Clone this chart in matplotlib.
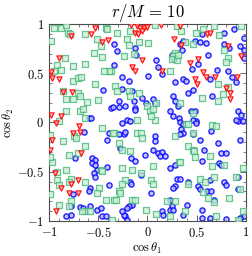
import matplotlib
matplotlib.use('Agg')
import matplotlib.pyplot as plt
from matplotlib.ticker import MultipleLocator, FuncFormatter

plt.rcParams['mathtext.fontset'] = 'cm'
plt.rcParams['font.family'] = 'serif'

# red downward triangles
red_x = [-0.53, -0.57, -0.78, -0.46, -0.40, -0.90, -0.98, -0.97, -0.90, -0.86,
         -0.77, -0.98, -0.88, -0.93, -0.70, -0.69, -0.76, -0.97, -0.99, -0.68,
         -0.94, -0.71, -0.78, -0.88, -0.80, -0.71, -0.93, -0.17, -0.11, -0.08,
         -0.04, -0.13, -0.10, -0.06, -0.01, 0.14, 0.33, 0.27, 0.34, 0.60,
         0.64, 0.82, 0.95, 0.51, 0.43, -0.06, -0.16, -0.13, 0.15, 0.56,
         0.59, 0.69, 0.48, 0.50, 0.91, 0.80, 0.84, 0.84]
red_y = [0.96, 0.90, 0.88, 0.82, 0.84, 0.66, 0.51, 0.45, 0.44, 0.31,
         0.31, 0.08, 0.07, -0.01, -0.04, -0.10, -0.11, -0.18, -0.28, -0.31,
         -0.51, -0.58, -0.62, -0.67, -0.72, -0.72, -0.90, 0.99, 0.98, 0.96,
         0.96, 0.91, 0.90, 0.93, 0.97, 0.99, 0.98, 0.85, 0.79, 0.90,
         0.91, 0.78, 0.68, 0.65, 0.60, 0.63, 0.56, 0.52, 0.52, 0.51,
         0.46, 0.46, 0.44, 0.39, 0.46, 0.35, 0.30, 0.24]

# green squares
green_x = [-0.95, -0.88, -0.83, -0.42, -0.41, -0.81, -0.79, -0.63, -0.51, -0.47,
           -0.98, -0.54, -0.46, -0.84, -0.63, -0.76, -0.92, -0.88, -0.95, -0.37,
           -0.39, -0.44, -0.76, -0.71, -0.68, -0.53, -0.86, -0.71, -0.69, -0.83,
           -0.76, -0.61, -0.50, -0.69, -0.66, -0.83, -0.63, -0.90,
           -0.31, -0.18, -0.21, -0.19, -0.09, 0.01, 0.08, 0.30, 0.28, 0.26,
           0.25, 0.30, 0.23, -0.24, -0.14, -0.33, -0.31, -0.19, -0.18, -0.09,
           -0.01, 0.03, 0.06, 0.09, 0.08, -0.11, 0.04,
           0.34, 0.38, 0.49, 0.56, 0.68, 0.95, 0.73, 0.46, 0.78, 0.82,
           0.80, 0.31, 0.72, 0.82, 0.77, 0.55, 0.72, 0.46, 0.33,
           -0.46, -0.34, -0.99, -0.86, -0.75, -0.73, -0.63, -0.80, -0.71, -0.97,
           -0.92, -0.83, -0.78, -0.80, -0.92, -0.90, -0.63, -0.47, -0.46, -0.49,
           -0.42, -0.34, -0.51, -0.78, -0.90, -0.63, -0.58, -0.36, -0.99, -0.99,
           -0.80, -0.67,
           -0.35, -0.29, -0.26, -0.11, -0.07, -0.06, -0.18, -0.26, -0.16, -0.07,
           0.06, 0.04, 0.06, 0.28, 0.32, -0.23, -0.26, -0.29, -0.28, -0.32,
           -0.16, -0.13, -0.02, 0.09, 0.23, 0.20, 0.28,
           0.39, 0.41, 0.66, 0.70, 0.46, 0.41, 0.46, 0.47, 0.48, 0.63,
           0.66, 0.78, 0.68, 0.33, 0.97, 0.90, 0.53, 0.58, 0.41, 0.56,
           0.61, 0.83, 0.94, 0.68, 0.38, 0.70, 0.97, 0.92]
green_y = [0.96, 0.96, 0.99, 0.96, 0.95, 0.91, 0.90, 0.90, 0.85, 0.78,
           0.83, 0.71, 0.67, 0.66, 0.59, 0.57, 0.58, 0.53, 0.52, 0.52,
           0.52, 0.52, 0.42, 0.45, 0.46, 0.39, 0.32, 0.30, 0.27, 0.24,
           0.24, 0.21, 0.23, 0.12, 0.14, 0.12, 0.05, 0.02,
           0.91, 0.93, 0.85, 0.79, 0.82, 0.81, 0.99, 0.98, 0.71, 0.68,
           0.64, 0.63, 0.52, 0.68, 0.70, 0.37, 0.32, 0.32, 0.27, 0.30,
           0.17, 0.12, 0.14, 0.20, 0.03, 0.03, 0.07,
           0.93, 0.82, 0.91, 0.95, 0.98, 0.98, 0.89, 0.80, 0.74, 0.66,
           0.61, 0.69, 0.39, 0.36, 0.29, 0.25, 0.22, 0.10, 0.20,
           -0.06, -0.11, -0.13, -0.19, -0.14, -0.16, -0.24, -0.33, -0.31, -0.40,
           -0.50, -0.48, -0.57, -0.60, -0.58, -0.63, -0.60, -0.48, -0.49, -0.67,
           -0.79, -0.79, -0.72, -0.80, -0.84, -0.90, -0.90, -0.99, -0.35, -0.73,
           -0.85, -0.90,
           -0.11, -0.21, -0.28, -0.11, -0.11, -0.16, -0.29, -0.46, -0.48, -0.51,
           -0.44, -0.58, -0.62, -0.14, -0.40, -0.58, -0.62, -0.70, -0.72, -0.79,
           -0.79, -0.79, -0.89, -0.93, -0.95, -0.80, -0.80,
           -0.02, -0.02, -0.03, -0.04, -0.11, -0.24, -0.28, -0.29, -0.35, -0.34,
           -0.44, -0.43, -0.55, -0.40, -0.46, -0.55, -0.57, -0.60, -0.62, -0.71,
           -0.77, -0.77, -0.68, -0.81, -0.90, -0.95, -0.90, -0.99]

# blue circles
blue_x = [-0.34, -0.34, -0.45, -0.37, -0.35, -0.59, -0.57,
          -0.31, -0.13, -0.12, -0.26, -0.26, -0.19, -0.16, -0.14, -0.06, 0.01,
          0.09, 0.11, 0.15, 0.28, 0.26, 0.28, 0.31, 0.33, 0.35, -0.29,
          -0.29, -0.23, -0.21, -0.13, -0.13, 0.06, 0.08, 0.23, 0.26, 0.32,
          -0.18, -0.02,
          0.55, 0.78, 0.88, 0.98, 0.98, 0.94, 0.78, 0.83, 0.98, 0.51,
          0.36, 0.39, 0.41, 0.82, 0.90, 0.46, 0.66, 0.44, 0.48, 0.49,
          0.46, 0.92, 0.95, 0.92, 0.97, 0.36, 0.48, 0.53, 0.59, 0.61,
          0.25, 0.27, 0.45, 0.71, 0.86, 0.63,
          -0.65, -0.39, -0.41, -0.74, -0.56, -0.53, -0.56, -0.53, -0.51, -0.54,
          -0.53, -0.41, -0.39, -0.58, -0.59, -0.76, -0.78, -0.69, -0.66, -0.58,
          -0.51, -0.47, -0.78, -0.83, -0.46, -0.42,
          -0.26, -0.29, -0.24, -0.23, 0.08, 0.08, -0.28, -0.03, 0.06, 0.11,
          0.15, 0.13, 0.18, -0.17, -0.13, 0.28, 0.23, -0.07, -0.18, -0.17,
          0.04, 0.30, 0.28, 0.26, -0.16, -0.19, -0.21, -0.23, -0.24, -0.26,
          0.15, 0.16, 0.23, 0.25, 0.23, 0.26, -0.21,
          0.33, 0.36, 0.34, 0.49, 0.46, 0.53, 0.57, 0.65, 0.72, 0.75,
          0.80, 0.73, 0.75, 0.55, 0.94, 0.90, 0.33, 0.41, 0.51, 0.53,
          0.63, 0.60, 0.65, 0.78, 0.80, 0.92, 0.92, 0.68, 0.40, 0.55,
          0.36, 0.55, 0.63, 0.80, 0.98, 0.94, 0.36, 0.33]
blue_y = [0.80, 0.58, 0.33, 0.15, 0.16, 0.05, 0.05,
          0.73, 0.76, 0.69, 0.46, 0.34, 0.42, 0.32, 0.22, 0.25, 0.47,
          0.63, 0.56, 0.49, 0.41, 0.27, 0.22, 0.17, 0.80, 0.74, 0.22,
          0.16, 0.17, 0.03, 0.15, 0.13, 0.24, 0.20, 0.12, 0.07, 0.05,
          0.02, 0.20,
          0.90, 0.91, 0.95, 0.86, 0.74, 0.78, 0.80, 0.76, 0.66, 0.59,
          0.44, 0.42, 0.30, 0.52, 0.41, 0.33, 0.27, 0.12, 0.12, 0.02,
          0.03, 0.12, 0.08, 0.02, 0.02, 0.83, 0.83, 0.82, 0.81, 0.69,
          0.69, 0.65, 0.54, 0.53, 0.46, 0.44,
          -0.10, -0.11, -0.18, -0.36, -0.36, -0.38, -0.41, -0.43, -0.48, -0.51,
          -0.55, -0.45, -0.63, -0.67, -0.70, -0.73, -0.85, -0.86, -0.87, -0.85,
          -0.89, -0.87, -0.94, -0.95, -0.95, -0.95,
          -0.01, -0.12, -0.12, -0.10, -0.14, -0.19, -0.26, -0.33, -0.28, -0.31,
          -0.30, -0.34, -0.34, -0.36, -0.39, -0.43, -0.46, -0.53, -0.60, -0.62,
          -0.72, -0.57, -0.65, -0.67, -0.84, -0.85, -0.87, -0.95, -0.94, -0.90,
          -0.90, -0.94, -0.79, -0.85, -0.89, -0.89, -0.99,
          0.01, -0.02, -0.07, -0.01, -0.12, -0.18, -0.28, -0.09, -0.21, -0.31,
          -0.31, -0.41, -0.43, -0.39, -0.18, 0.03, -0.57, -0.60, -0.65, -0.68,
          -0.58, -0.70, -0.70, -0.60, -0.63, -0.55, -0.68, -0.79, -0.84, -0.89,
          -0.94, -0.97, -0.97, -0.98, -0.95, -0.97, -0.11, -0.12]

title = r'$r/M\,=\,10$'
xlabel = r'$\cos\theta_1$'
ylabel = r'$\cos\theta_2$'

fig = plt.figure(figsize=(2.53, 2.56), dpi=100)
ax = fig.add_axes([0.194, 0.137, 0.778, 0.769])

ax.scatter(blue_x, blue_y, s=14, marker='o', facecolor=(0.72, 0.72, 1.0),
           edgecolor='blue', linewidth=1.0, alpha=0.85, zorder=2)
ax.scatter(green_x, green_y, s=18, marker='s', facecolor=(0.8, 0.94, 0.84),
           edgecolor='mediumseagreen', linewidth=0.9, alpha=0.75, zorder=3)
ax.scatter(red_x, red_y, s=14, marker='v', facecolor=(1.0, 0.75, 0.75),
           edgecolor='red', linewidth=0.9, alpha=0.9, zorder=4)

ax.set_xlim(-1, 1)
ax.set_ylim(-1, 1)
for a in (ax.xaxis, ax.yaxis):
    a.set_major_locator(MultipleLocator(0.5))
    a.set_minor_locator(MultipleLocator(0.1))
    a.set_major_formatter(FuncFormatter(lambda v, p: r'$%g$' % v))
ax.tick_params(which='both', direction='in', top=True, right=True,
               labelsize=9, color='0.3')
ax.tick_params(which='major', length=4, width=0.6)
ax.tick_params(which='minor', length=2, width=0.5)
for sp in ax.spines.values():
    sp.set_color('0.3')
    sp.set_linewidth(0.8)

ax.set_title(title, fontsize=12, pad=3)
ax.set_xlabel(xlabel, fontsize=9, labelpad=1)
ax.set_ylabel(ylabel, fontsize=9, labelpad=1)

fig.savefig('out.png', dpi=100)
